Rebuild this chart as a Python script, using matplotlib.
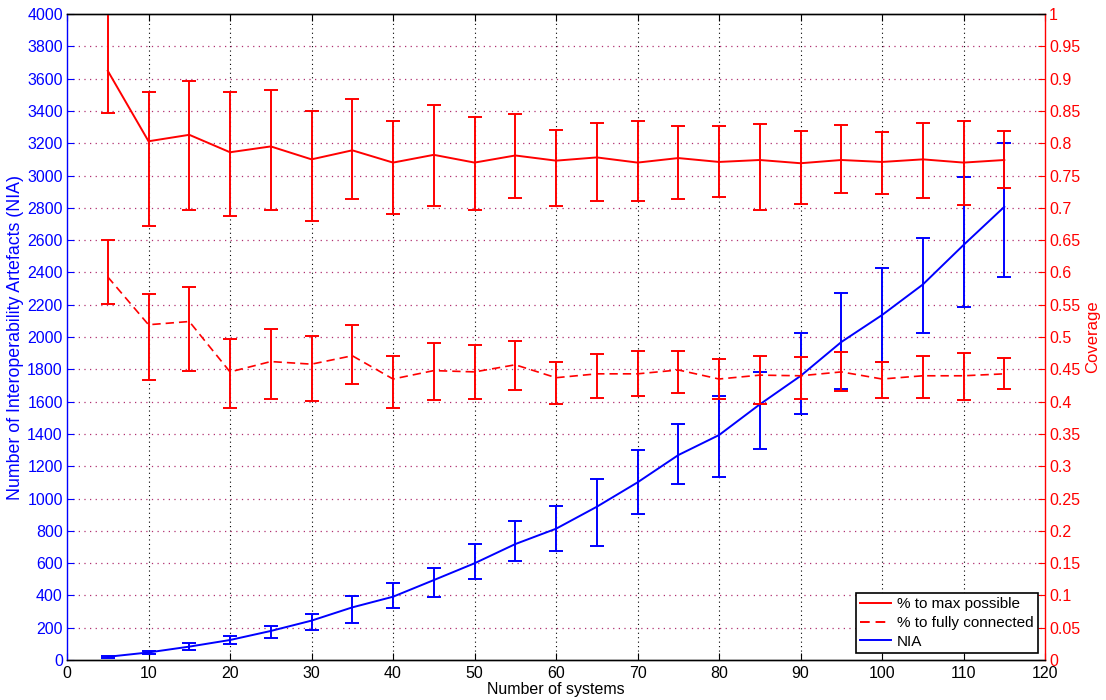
import matplotlib
matplotlib.use("Agg")
import matplotlib.pyplot as plt
from matplotlib.lines import Line2D
import numpy as np

plt.rcParams['font.family'] = ['Liberation Sans', 'DejaVu Sans']

# Number of systems
systems = [5, 10, 15, 20, 25, 30, 35, 40, 45, 50, 55, 60,
           65, 70, 75, 80, 85, 90, 95, 100, 105, 110, 115]

# Coverage: % to max possible (mean, upper, lower)
max_mean = [0.912, 0.803, 0.813, 0.786, 0.795, 0.775, 0.789, 0.770, 0.782, 0.770, 0.781, 0.773,
            0.778, 0.770, 0.777, 0.771, 0.774, 0.769, 0.774, 0.771, 0.775, 0.770, 0.774]
max_hi = [1.000, 0.879, 0.896, 0.879, 0.882, 0.850, 0.868, 0.834, 0.859, 0.841, 0.845, 0.820,
          0.831, 0.834, 0.827, 0.827, 0.830, 0.819, 0.828, 0.817, 0.831, 0.835, 0.819]
max_lo = [0.847, 0.672, 0.697, 0.688, 0.696, 0.679, 0.714, 0.690, 0.703, 0.697, 0.715, 0.703,
          0.711, 0.711, 0.714, 0.717, 0.697, 0.706, 0.723, 0.721, 0.715, 0.705, 0.730]

# Coverage: % to fully connected (mean, upper, lower)
full_mean = [0.593, 0.519, 0.524, 0.446, 0.462, 0.458, 0.471, 0.435, 0.448, 0.446, 0.457, 0.437,
             0.443, 0.443, 0.449, 0.435, 0.441, 0.440, 0.446, 0.435, 0.440, 0.440, 0.443]
full_hi = [0.650, 0.567, 0.577, 0.497, 0.512, 0.502, 0.519, 0.471, 0.491, 0.487, 0.494, 0.462,
           0.474, 0.479, 0.478, 0.466, 0.471, 0.469, 0.477, 0.461, 0.471, 0.476, 0.468]
full_lo = [0.551, 0.433, 0.448, 0.390, 0.404, 0.401, 0.427, 0.390, 0.403, 0.404, 0.418, 0.397,
           0.405, 0.409, 0.413, 0.404, 0.396, 0.404, 0.417, 0.406, 0.405, 0.402, 0.419]

# Number of interoperability artefacts (mean, upper, lower)
nia_mean = [20, 47, 83, 124, 180, 244, 326, 392, 495, 599, 718, 813,
            949, 1100, 1269, 1393, 1583, 1759, 1969, 2136, 2325, 2570, 2806]
nia_hi = [25, 58, 105, 149, 211, 285, 394, 477, 568, 718, 859, 952,
          1121, 1300, 1459, 1637, 1783, 2023, 2271, 2428, 2614, 2993, 3204]
nia_lo = [15, 35, 64, 99, 138, 186, 227, 322, 390, 502, 611, 677,
          706, 902, 1088, 1133, 1306, 1523, 1678, 1844, 2025, 2185, 2374]

x_ticks = list(range(0, 121, 10))
left_ticks = list(range(0, 4001, 200))
right_ticks = [round(v * 0.05, 2) for v in range(21)]

BLUE = '#0000ff'
RED = '#ff0000'
GRID_H = '#b03070'

fig = plt.figure(figsize=(11.06, 7.0), dpi=100)
ax = fig.add_axes([0.0606, 0.0571, 0.8843, 0.9229])
ax2 = ax.twinx()

def err(mean, hi, lo):
    m = np.asarray(mean, float)
    return np.vstack([m - np.asarray(lo, float), np.asarray(hi, float) - m])

# NIA on the left axis
ax.errorbar(systems, nia_mean, yerr=err(nia_mean, nia_hi, nia_lo), color=BLUE,
            lw=1.4, elinewidth=1.4, capsize=5, capthick=1.4)

# Coverage curves on the right axis
ax2.errorbar(systems, max_mean, yerr=err(max_mean, max_hi, max_lo), color=RED,
             lw=1.4, elinewidth=1.4, capsize=5, capthick=1.4)
eb = ax2.errorbar(systems, full_mean, yerr=err(full_mean, full_hi, full_lo), color=RED,
                  lw=1.2, elinewidth=1.4, capsize=5, capthick=1.4, ls='--')
eb[0].set_dashes([5, 3])

ax.set_xlim(0, 120)
ax.set_ylim(0, 4000)
ax2.set_ylim(0, 1)
ax.set_xticks(x_ticks)
ax.set_yticks(left_ticks)
ax2.set_yticks(right_ticks)
ax2.set_yticklabels([('%g' % v) for v in right_ticks])

# Grid: vertical black dotted, horizontal purple dotted
for xv in x_ticks[1:-1]:
    ax.axvline(xv, color='black', lw=0.8, ls=(0, (1, 3)), zorder=0)
for yv in left_ticks[1:-1]:
    ax.axhline(yv, color=GRID_H, lw=0.9, ls=(0, (1, 3.5)), zorder=0)

ax.tick_params(axis='x', direction='in', top=True, length=5, labelsize=11.5,
               colors='black', pad=4)
ax.tick_params(axis='y', direction='in', length=5, labelsize=11.5,
               colors=BLUE, pad=3)
ax2.tick_params(axis='y', direction='in', length=5, labelsize=11.5,
                colors=RED, pad=3)

ax.spines['left'].set_color(BLUE)
ax.spines['right'].set_visible(False)
ax2.spines['left'].set_visible(False)
ax2.spines['right'].set_color(RED)
for sp in ['top', 'bottom']:
    ax.spines[sp].set_color('#333333')
for s in list(ax.spines.values()) + list(ax2.spines.values()):
    s.set_linewidth(1.0)

ax.set_xlabel('Number of systems', fontsize=11.5, labelpad=1)
ax.set_ylabel('Number of Interoperability Artefacts (NIA)', fontsize=12.8,
              color=BLUE, labelpad=2)
ax2.set_ylabel('Coverage', fontsize=12, color=RED, labelpad=3)

handles = [Line2D([], [], color=RED, lw=1.4),
           Line2D([], [], color=RED, lw=1.4, ls='--', dashes=(5, 3)),
           Line2D([], [], color=BLUE, lw=1.4)]
labels = ['% to max possible', '% to fully connected', 'NIA']
leg = ax2.legend(handles, labels, loc='lower right', fontsize=11, frameon=True,
                 fancybox=False, edgecolor='black', framealpha=1,
                 borderpad=0.3, labelspacing=0.3, handlelength=2.0,
                 handletextpad=0.4, borderaxespad=0.45)
leg.get_frame().set_linewidth(1.2)

fig.savefig('out.png', dpi=100)
